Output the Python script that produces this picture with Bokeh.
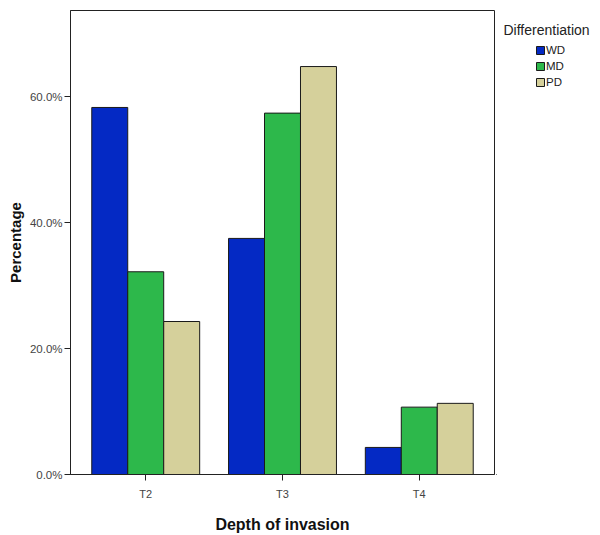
from bokeh.plotting import figure
from bokeh.layouts import row
from bokeh.models import (FactorRange, Range1d, FixedTicker, PrintfTickFormatter,
                          Legend, LegendItem, Label, ColumnDataSource)
from bokeh.transform import dodge
from bokeh.embed import file_html
from bokeh.resources import INLINE

categories = ["T2", "T3", "T4"]
groups = ["WD", "MD", "PD"]
wd = [58.3, 37.5, 4.3]
md = [32.2, 57.4, 10.7]
pdv = [24.3, 64.8, 11.3]
colors = ["#0429C4", "#2DB84B", "#D5D09B"]
y_ticks = [0, 20, 40, 60]

FONT = "Liberation Sans"
EDGE = "#1a1a1a"

source = ColumnDataSource(dict(cat=categories, WD=wd, MD=md, PD=pdv))

p = figure(
    x_range=FactorRange(*categories, range_padding=0.05, range_padding_units="absolute"),
    y_range=Range1d(0, 73.7),
    width=496, height=535,
    min_border_left=70, min_border_right=2, min_border_top=10, min_border_bottom=58,
    output_backend="svg", toolbar_location=None,
)

bw = 0.263
offsets = [-bw, 0.0, bw]
for g, c, off in zip(groups, colors, offsets):
    p.vbar(x=dodge("cat", off, range=p.x_range), top=g, width=bw, source=source,
           fill_color=c, line_color=EDGE, line_width=1)

p.xgrid.visible = False
p.ygrid.visible = False
p.outline_line_color = "#222222"
p.outline_line_width = 1

# Y axis
p.yaxis.ticker = FixedTicker(ticks=y_ticks)
p.yaxis.formatter = PrintfTickFormatter(format="%.1f%%")
p.yaxis.axis_label = "Percentage"
p.yaxis.axis_label_text_font = FONT
p.yaxis.axis_label_text_font_style = "bold"
p.yaxis.axis_label_text_font_size = "15px"
p.yaxis.axis_label_text_color = "#111111"
p.yaxis.axis_label_standoff = 3
p.yaxis.major_label_text_font = FONT
p.yaxis.major_label_text_font_size = "11.5px"
p.yaxis.major_label_text_color = "#444444"
p.yaxis.major_label_standoff = 2
p.yaxis.major_tick_out = 6
p.yaxis.major_tick_in = 0
p.yaxis.minor_tick_out = 0
p.yaxis.minor_tick_in = 0
p.yaxis.axis_line_color = "#222222"
p.yaxis.major_tick_line_color = "#222222"

# X axis
p.xaxis.axis_label = "Depth of invasion"
p.xaxis.axis_label_text_font = FONT
p.xaxis.axis_label_text_font_style = "bold"
p.xaxis.axis_label_text_font_size = "16px"
p.xaxis.axis_label_text_color = "#111111"
p.xaxis.axis_label_standoff = 13
p.xaxis.major_label_text_font = FONT
p.xaxis.major_label_text_font_size = "11px"
p.xaxis.major_label_text_color = "#444444"
p.xaxis.major_label_standoff = 7
p.xaxis.major_tick_out = 6
p.xaxis.major_tick_in = 0
p.xaxis.axis_line_color = "#222222"
p.xaxis.major_tick_line_color = "#222222"

# Legend panel (separate figure to the right of the chart frame)
p2 = figure(
    x_range=Range1d(0, 1), y_range=Range1d(0, 1),
    width=104, height=535,
    min_border_left=0, min_border_right=0, min_border_top=0, min_border_bottom=0,
    x_axis_location=None, y_axis_location=None,
    output_backend="svg", toolbar_location=None,
)
p2.xgrid.visible = False
p2.ygrid.visible = False
p2.outline_line_color = None

# keys for the legend: one bar each, placed outside the visible range
dummy = []
for g, c in zip(groups, colors):
    r = p2.vbar(x=[-10], top=[-10], width=0.1, fill_color=c, line_color=EDGE, line_width=1)
    dummy.append(r)

legend = Legend(
    items=[LegendItem(label=g, renderers=[r]) for g, r in zip(groups, dummy)],
    location=(39, 384),
    orientation="vertical",
    glyph_width=10, glyph_height=10,
    label_height=16, label_standoff=1, spacing=0,
    padding=0, margin=0,
    border_line_color=None, background_fill_alpha=0,
    label_text_font=FONT, label_text_font_size="11.5px", label_text_color="#222222",
)
p2.add_layout(legend)

title = Label(x=7, y=445, x_units="screen", y_units="screen", text="Differentiation",
              text_font=FONT, text_font_size="14px", text_color="#222222",
              text_baseline="alphabetic")
p2.add_layout(title)

layout = row(p, p2, spacing=0)
open("out.html", "w").write(file_html(layout, INLINE))
